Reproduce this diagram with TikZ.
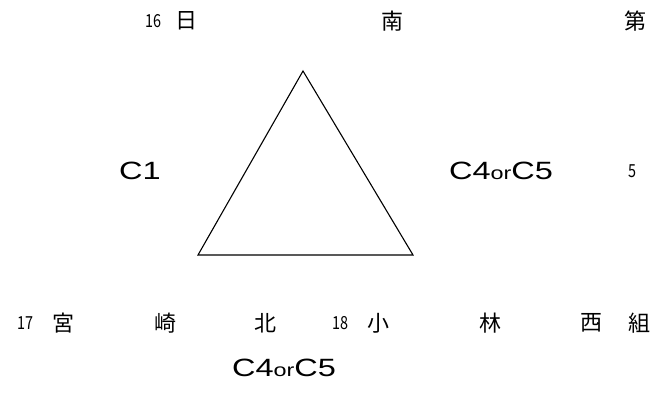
\documentclass[tikz,border=0pt]{standalone}
\usepackage{fontspec}
\setmainfont{Liberation Sans}
\newfontfamily\wide[FakeStretch=1.3]{Liberation Sans}
\newfontfamily\jp{Noto Sans CJK JP}
\newfontfamily\jpnum[FakeStretch=0.8]{Noto Sans CJK JP}
\newcommand{\CorC}{{\fontsize{25}{25}\selectfont C4}{\fontsize{18}{18}\selectfont or}{\fontsize{25}{25}\selectfont C5}}
\begin{document}
\begin{tikzpicture}[x=1pt,y=1pt,
  kanji/.style={font=\jp\fontsize{22}{22}\selectfont, inner sep=0pt, anchor=center},
  num/.style={font=\jpnum\fontsize{18}{18}\selectfont, inner sep=0pt, anchor=center},
  lat/.style={font=\wide\fontsize{25}{25}\selectfont, inner sep=0pt, anchor=base},
  tri/.style={draw=black, line width=1.1pt, line join=miter}]
\useasboundingbox (0,0) rectangle (664,412);
% triangle
\coordinate (t) at (303,341);
\coordinate (l) at (198,157);
\coordinate (r) at (413,157);
\draw[tri] (t) -- (l) -- (r) -- cycle;
% top row
\node[num] (n16) at (153,391) {16};
\node[kanji] (k1) at (186,391) {日};
\node[kanji] (k2) at (392,391) {南};
\node[kanji] (k3) at (635,391) {第};
% middle row
\node[lat] (c1) at (140,232) {C1};
\node[lat] (c45a) at (501,232) {\CorC};
\node[num] (n5) at (632,241) {5};
% bottom row
\node[num] (n17) at (25,89) {17};
\node[kanji] (k4) at (63,89) {宮};
\node[kanji] (k5) at (165,89) {崎};
\node[kanji] (k6) at (265,89) {北};
\node[num] (n18) at (340,89) {18};
\node[kanji] (k7) at (378,89) {小};
\node[kanji] (k8) at (490,89) {林};
\node[kanji] (k9) at (591,89) {西};
\node[kanji] (k10) at (639,89) {組};
% bottom label
\node[lat] (c45b) at (284,35) {\CorC};
\end{tikzpicture}
\end{document}
